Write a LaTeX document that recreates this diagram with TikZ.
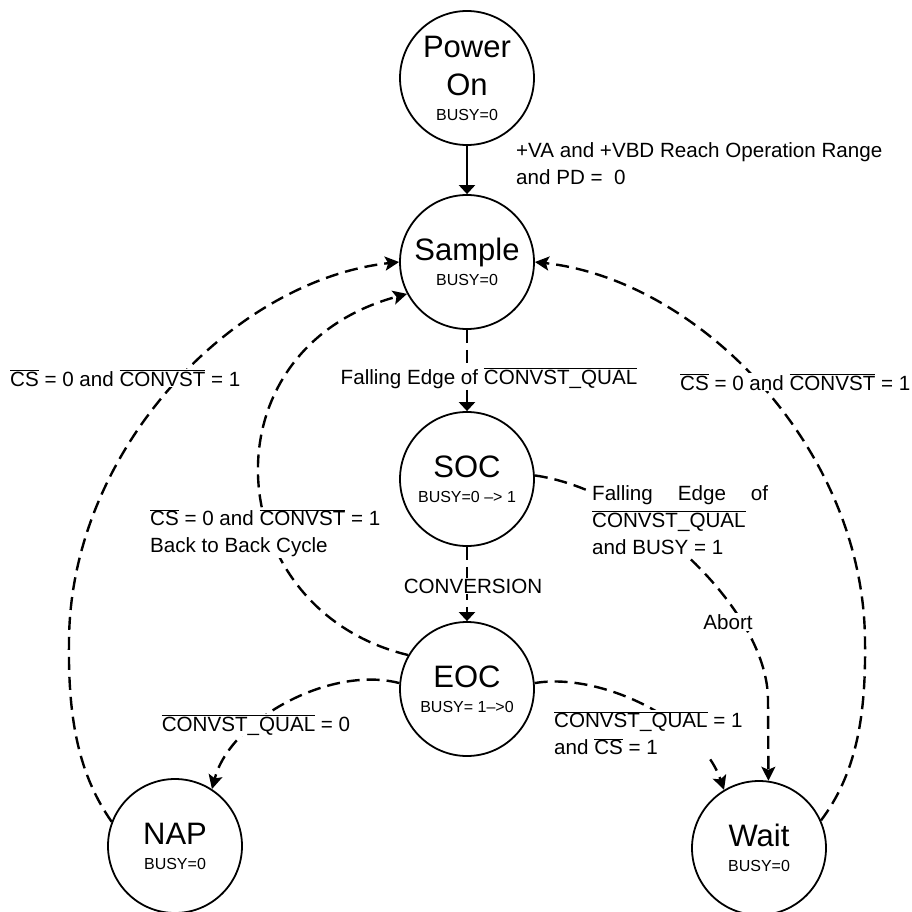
\documentclass[tikz,border=0pt]{standalone}
\usepackage{fontspec}
\setmainfont{Liberation Sans}
\usetikzlibrary{arrows.meta}
\newcommand\ovl[1]{$\overline{\mbox{#1}}$}
\newcommand\busyf{\fontsize{16}{19}\selectfont}
\begin{document}
\begin{tikzpicture}[x=1pt,y=-1pt,
  st/.style={circle, draw, line width=1.8pt, minimum size=134pt, inner sep=0pt, align=center, font=\fontsize{31}{37}\selectfont},
  tr/.style={line width=2.2pt, -{Triangle[length=9pt,width=16pt]}},
  trd/.style={tr, dash pattern=on 13pt off 7pt},
  dsh/.style={line width=2.4pt, dash pattern=on 13pt off 7pt, -{Stealth[length=14pt,width=14pt,inset=3pt]}},
  lbl/.style={font=\fontsize{20.6}{27}\selectfont, inner sep=1pt, fill=white}
]
\useasboundingbox (0,0) rectangle (912,912);

% states
\node[st] (PO) at (467,78) {Power\\[1pt]On\\[-12pt]{\busyf BUSY=0}};
\node[st] (Sample) at (467,262) {Sample\\[-12pt]{\busyf BUSY=0}};
\node[st] (SOC) at (467,479) {SOC\\[-12pt]{\busyf BUSY=0 --> 1}};
\node[st] (EOC) at (467,689) {EOC\\[-12pt]{\busyf BUSY= 1-->0}};
\node[st] (NAP) at (175,846) {NAP\\[-12pt]{\busyf BUSY=0}};
\node[st] (Wait) at (759,848) {Wait\\[-12pt]{\busyf BUSY=0}};

% connectors
\draw[tr] (PO) -- (Sample);
\draw[trd] (Sample) -- (SOC);
\draw[trd] (SOC) -- (EOC);
\draw[dsh] (NAP.159) .. controls (79,775) and (68,720) .. (69,643)
   .. controls (69,450) and (234,280) .. (Sample.180);
\draw[dsh] (Wait.24) .. controls (855,775) and (866,720) .. (865,643)
   .. controls (865,450) and (700,280) .. (Sample.0);
\draw[dsh] (EOC.150) .. controls (220,610) and (200,350) .. (Sample.208);
\draw[dsh] (SOC.3) .. controls (640,490) and (768,610) .. (768,700) -- (Wait.82);
\draw[dsh] (EOC.5) .. controls (600,672) and (700,720) .. (Wait.121);
\draw[dsh] (EOC.175) .. controls (330,665) and (230,720) .. (NAP.57);

% labels
\node[lbl, fill=none, anchor=west, align=left] (lPO) at (515,164) {+VA and +VBD Reach Operation Range\\and PD = \ 0};
\node[lbl] (lFE) at (489,378) {Falling Edge of \ovl{CONVST\_QUAL}};
\node[lbl] (lCV) at (473,586) {CONVERSION};
\node[lbl, anchor=west] (lNS) at (9,378) {\ovl{CS} = 0 and \ovl{CONVST} = 1};
\node[lbl, anchor=west] (lWS) at (679,382) {\ovl{CS} = 0 and \ovl{CONVST} = 1};
\node[lbl, anchor=west, align=left] (lBB) at (149,533) {\ovl{CS} = 0 and \ovl{CONVST} = 1\\Back to Back Cycle};
\node[lbl, anchor=west, align=left] (lAB) at (591,520) {\makebox[176pt][s]{Falling Edge of}\\\ovl{CONVST\_QUAL}\\and BUSY = 1};
\node[lbl] (lAbort) at (728,622) {Abort};
\node[lbl] (lEN) at (256,725) {\ovl{CONVST\_QUAL} = 0};
\node[lbl, anchor=west, align=left] (lEW) at (553,733) {\ovl{CONVST\_QUAL} = 1\\and \ovl{CS} = 1};
\end{tikzpicture}
\end{document}
